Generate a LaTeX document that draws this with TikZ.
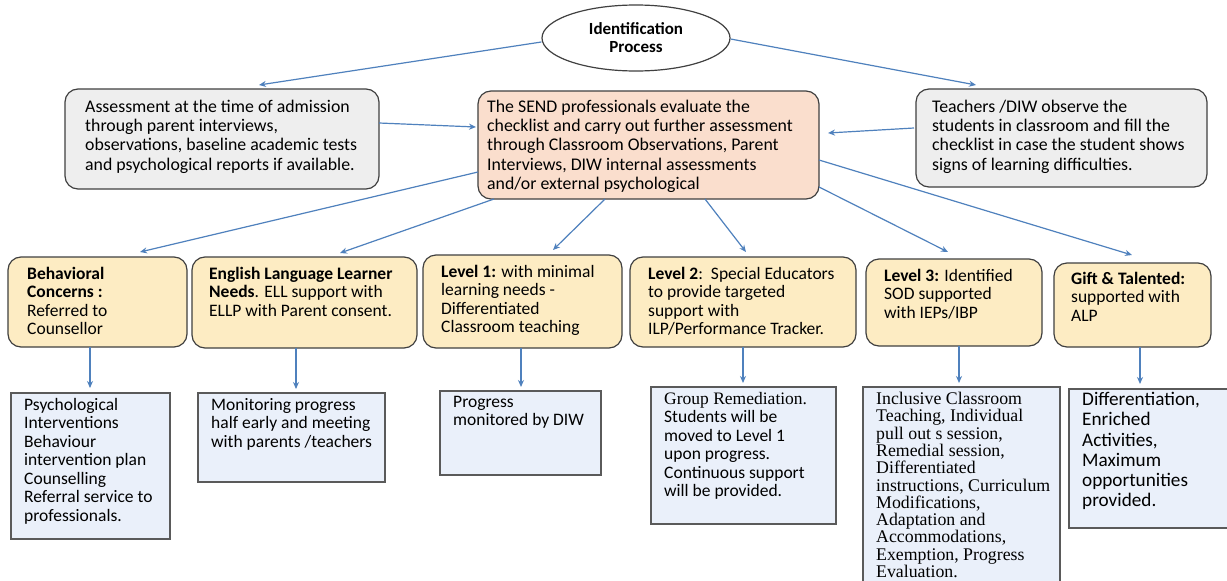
\documentclass[tikz,border=0pt]{standalone}
\usepackage{fontspec}
\setmainfont{Carlito}
\newfontfamily\serifff{Liberation Serif}
\usetikzlibrary{arrows.meta,shapes.geometric}
\definecolor{arr}{RGB}{79,129,189}
\definecolor{boxline}{RGB}{64,64,64}
\definecolor{grayfill}{RGB}{238,238,238}
\definecolor{peach}{RGB}{250,222,205}
\definecolor{yell}{RGB}{253,236,195}
\definecolor{lblue}{RGB}{234,240,250}
\definecolor{dline}{RGB}{90,90,90}
\begin{document}
\begin{tikzpicture}[x=1pt,y=-1pt,
  box/.style={draw=boxline, line width=1.2pt, rounded corners=13pt, inner sep=0pt, outer sep=0pt},
  gbox/.style={box, fill=grayfill},
  pbox/.style={box, fill=peach},
  ybox/.style={box, fill=yell},
  dbox/.style={draw=dline, line width=1.2pt, fill=lblue, inner sep=0pt, outer sep=0pt},
  txt/.style={anchor=north west, align=left, inner sep=0pt, font=\fontsize{17.8}{19.2}\selectfont},
  stxt/.style={txt, font=\fontsize{17.5}{18.5}\selectfont},
  link/.style={draw=arr, line width=1.2pt, -{Stealth[length=7pt,width=6pt]}}]
\useasboundingbox (0,0) rectangle (1227,581);
\fill[white] (0,0) rectangle (1227,581);

% top level
\node[ellipse, draw=boxline, line width=1.2pt, fill=white, minimum width=188pt, minimum height=66pt, inner sep=0pt, align=center, font=\bfseries\fontsize{17}{18}\selectfont] (ell) at (636,38) {Identification\\Process};
\node[gbox, minimum width=314pt, minimum height=100pt] (L) at (222,139) {};
\node[pbox, minimum width=341pt, minimum height=108pt] (C) at (648.5,145) {};
\node[gbox, minimum width=291pt, minimum height=98pt] (R) at (1061.5,138) {};
\node[txt] (tL) at (85,100) {Assessment at the time of admission\\through parent interviews,\\observations, baseline academic tests\\and psychological reports if available.};
\node[txt] (tC) at (487,100) {The SEND professionals evaluate the\\checklist and carry out further assessment\\through Classroom Observations, Parent\\Interviews, DIW internal assessments\\and/or external psychological};
\node[txt] (tR) at (932,100) {Teachers /DIW observe the\\students in classroom and fill the\\checklist in case the student shows\\signs of learning difficulties.};

% second row
\node[ybox, minimum width=179pt, minimum height=90pt] (b1) at (97.5,302) {};
\node[ybox, minimum width=225pt, minimum height=91pt] (b2) at (304.5,302.5) {};
\node[ybox, minimum width=199pt, minimum height=93pt] (b3) at (522.5,301.5) {};
\node[ybox, minimum width=226pt, minimum height=90pt] (b4) at (743,302) {};
\node[ybox, minimum width=176pt, minimum height=87pt] (b5) at (954,302.5) {};
\node[ybox, minimum width=157pt, minimum height=84pt] (b6) at (1132.5,305) {};
\node[stxt] (tb1) at (27,267) {\textbf{Behavioral}\\\textbf{Concerns :}\\Referred to\\Counsellor};
\node[stxt] (tb2) at (209,267) {\textbf{English Language Learner}\\\textbf{Needs}. ELL support with\\ELLP with Parent consent.};
\node[stxt] (tb3) at (441,265) {\textbf{Level 1:} with minimal\\learning needs -\\Differentiated\\Classroom teaching};
\node[stxt] (tb4) at (648,267) {\textbf{Level 2}:\ \ Special Educators\\to provide targeted\\support with\\ILP/Performance Tracker.};
\node[stxt] (tb5) at (884,269) {\textbf{Level 3:} Identified\\SOD supported\\with IEPs/IBP};
\node[stxt] (tb6) at (1071,272) {\textbf{Gift \& Talented:}\\supported with\\ALP};

% third row
\node[dbox, minimum width=159pt, minimum height=146pt] (d1) at (90.5,466) {};
\node[dbox, minimum width=187pt, minimum height=89pt] (d2) at (291.5,437.5) {};
\node[dbox, minimum width=161pt, minimum height=84pt] (d3) at (520.5,433) {};
\node[dbox, minimum width=185pt, minimum height=137pt] (d4) at (743.5,455.5) {};
\node[dbox, minimum width=197pt, minimum height=213pt] (d5) at (961.5,493.5) {};
\node[dbox, minimum width=171pt, minimum height=139pt] (d6) at (1154.5,458.5) {};
\node[stxt] (td1) at (24,398) {Psychological\\Interventions\\Behaviour\\intervention plan\\Counselling\\Referral service to\\professionals.};
\node[stxt] (td2) at (211,398) {Monitoring progress\\half early and meeting\\with parents /teachers};
\node[stxt] (td3) at (453,396) {Progress\\monitored by DIW};
\node[stxt] (td4) at (664,392) {{\serifff Group Remediation.}\\Students will be\\moved to Level 1\\upon progress.\\Continuous support\\will be provided.};
\node[txt, font=\serifff\fontsize{17.8}{17.3}\selectfont] (td5) at (876,392) {Inclusive Classroom\\Teaching, Individual\\pull out s session,\\Remedial session,\\Differentiated\\instructions, Curriculum\\Modifications,\\Adaptation and\\Accommodations,\\Exemption, Progress\\Evaluation.};
\node[txt, font=\fontsize{19.2}{20.3}\selectfont] (td6) at (1082,392) {Differentiation,\\Enriched\\Activities,\\Maximum\\opportunities\\provided.};

% connectors
\draw[link] ([shift={(0,4)}]ell.west) -- ([shift={(194,-4)}]L.north west);
\draw[link] ([shift={(0,1)}]ell.east) -- ([shift={(60,-4)}]R.north west);
\draw[link] ([shift={(0,34)}]L.north east) -- ([shift={(-2,36)}]C.north west);
\draw[link] ([shift={(-2,39)}]R.north west) -- ([shift={(9,42)}]C.north east);
\draw[link] ([shift={(0,81)}]C.north west) -- ([shift={(132,-5)}]b1.north west);
\draw[link] ([shift={(16,0)}]C.south west) -- ([shift={(148,-4)}]b2.north west);
\draw[link] ([shift={(127,0)}]C.south west) -- ([shift={(130,-5)}]b3.north west);
\draw[link] ([shift={(227,0)}]C.south west) -- ([shift={(116,-5)}]b4.north west);
\draw[link] ([shift={(0,-12)}]C.south east) -- ([shift={(82,-7)}]b5.north west);
\draw[link] ([shift={(0,69)}]C.north east) -- ([shift={(78,-8)}]b6.north west);

\draw[link] ([shift={(82,0)}]b1.south west) -- ([shift={(79,-5)}]d1.north west);
\draw[link] ([shift={(104,0)}]b2.south west) -- ([shift={(98,-4)}]d2.north west);
\draw[link] ([shift={(98,0)}]b3.south west) -- ([shift={(81,-4)}]d3.north west);
\draw[link] ([shift={(113,0)}]b4.south west) -- ([shift={(92,-4)}]d4.north west);
\draw[link] ([shift={(93,0)}]b5.south west) -- ([shift={(96,-4)}]d5.north west);
\draw[link] ([shift={(86,0)}]b6.south west) -- ([shift={(71,-5)}]d6.north west);
\end{tikzpicture}
\end{document}
